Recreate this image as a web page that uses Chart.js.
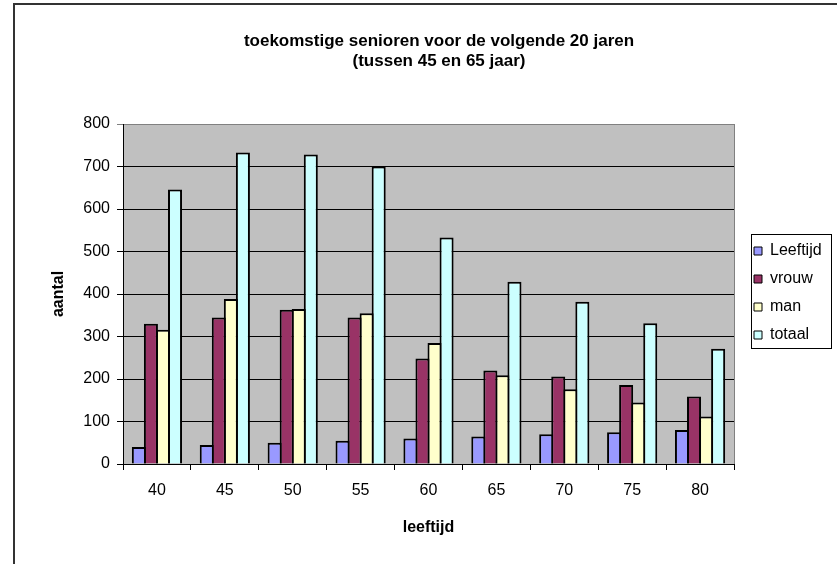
<!DOCTYPE html>
<html>
<head>
<meta charset="utf-8">
<script src="https://cdn.jsdelivr.net/npm/chart.js@4.4.1/dist/chart.umd.min.js"></script>
<style>
  html, body { margin: 0; padding: 0; background: #ffffff; }
  canvas { display: block; }
</style>
</head>
<body>
<canvas id="chart" width="837" height="564"></canvas>
<script>
// ---- data ----
const categories = ['40', '45', '50', '55', '60', '65', '70', '75', '80'];
const seriesNames = ['Leeftijd', 'vrouw', 'man', 'totaal'];
const leeftijd = [40, 45, 50, 55, 60, 65, 70, 75, 80];
const vrouw    = [330, 345, 363, 345, 248, 220, 206, 186, 159];
const man      = [316, 388, 365, 355, 285, 209, 176, 145, 112];
const totaal   = [646, 733, 728, 700, 533, 429, 382, 331, 271];
const yMin = 0, yMax = 800, yStep = 100;
const titleLines = ['toekomstige senioren voor de volgende 20 jaren', '(tussen 45 en 65 jaar)'];
const xTitle = 'leeftijd';
const yTitle = 'aantal';

const FONT = '"Liberation Sans", Arial, sans-serif';
const seriesColors = ['#9999FF', '#993366', '#FFFFCC', '#CCFFFF'];
const seriesValues = [leeftijd, vrouw, man, totaal];

const decor = {
  id: 'decor',
  afterLayout(chart) {
    const t = chart.titleBlock;
    if (t) { t.left = 40; t.right = 838; }
    const lg = chart.legend;
    if (lg) {
      const w = lg.width, h = lg.height;
      lg.left = 742; lg.right = lg.left + w;
      lg.top = 231; lg.bottom = lg.top + h;
    }
  },
  beforeDraw(chart) {
    const ctx = chart.ctx, a = chart.chartArea;
    ctx.save();
    ctx.fillStyle = '#ffffff';
    ctx.fillRect(0, 0, chart.width, chart.height);
    ctx.fillStyle = '#C0C0C0';
    ctx.fillRect(a.left, a.top, a.right - a.left, a.bottom - a.top);
    // legend frame
    ctx.fillStyle = '#ffffff';
    ctx.fillRect(751, 234, 80, 114);
    ctx.strokeStyle = '#000000';
    ctx.lineWidth = 1;
    ctx.strokeRect(751.5, 234.5, 80, 114);
    // outer chart frame (only left/top visible)
    ctx.strokeStyle = '#333333';
    ctx.lineWidth = 2;
    ctx.beginPath();
    ctx.moveTo(14, chart.height);
    ctx.lineTo(14, 4);
    ctx.lineTo(chart.width, 4);
    ctx.stroke();
    ctx.restore();
  },
  afterDraw(chart) {
    const ctx = chart.ctx, a = chart.chartArea;
    ctx.save();
    ctx.strokeStyle = '#808080';
    ctx.lineWidth = 1;
    ctx.beginPath();
    ctx.moveTo(Math.round(a.right) + 0.5, a.top);
    ctx.lineTo(Math.round(a.right) + 0.5, a.bottom);
    ctx.stroke();
    ctx.restore();
  }
};

new Chart(document.getElementById('chart'), {
  type: 'bar',
  data: {
    labels: categories,
    datasets: seriesNames.map((name, i) => ({
      label: name,
      data: seriesValues[i],
      backgroundColor: seriesColors[i],
      borderColor: '#000000',
      borderWidth: 2,
      categoryPercentage: 0.71,
      barPercentage: 1.165
    }))
  },
  options: {
    responsive: false,
    animation: false,
    devicePixelRatio: 1,
    layout: { padding: { left: 40, right: 20, top: 0, bottom: 0 } },
    plugins: {
      title: {
        display: true,
        text: titleLines,
        color: '#000000',
        font: { family: FONT, size: 17, weight: 'bold', lineHeight: 1.2 },
        padding: { top: 31, bottom: 52.2 }
      },
      legend: {
        display: true,
        position: 'right',
        align: 'start',
        maxWidth: 83,
        labels: {
          color: '#000000',
          font: { family: FONT, size: 16 },
          boxWidth: 8,
          boxHeight: 8,
          padding: 12,
          generateLabels(chart) {
            return Chart.defaults.plugins.legend.labels.generateLabels(chart).map(l => Object.assign(l, { lineWidth: 1 }));
          }
        }
      },
      tooltip: { enabled: false }
    },
    scales: {
      x: {
        offset: true,
        grid: { offset: true, drawOnChartArea: false, drawTicks: true, tickLength: 6, color: '#000000', lineWidth: 1 },
        border: { display: true, color: '#000000', width: 1 },
        ticks: { color: '#000000', font: { family: FONT, size: 16 }, padding: 11, maxRotation: 0 },
        title: { display: true, text: xTitle, color: '#000000', font: { family: FONT, size: 16, weight: 'bold', lineHeight: 1.2 }, padding: { top: 0, bottom: 27 } },
        afterFit(scale) { scale.height = 100; }
      },
      y: {
        min: yMin,
        max: yMax,
        grid: {
          color: (c) => (c.tick && c.tick.value === yMax ? '#808080' : '#000000'),
          lineWidth: 1,
          tickLength: 6,
          drawTicks: true
        },
        border: { display: true, color: '#000000', width: 1 },
        ticks: { stepSize: yStep, color: '#000000', font: { family: FONT, size: 16 }, padding: 7 },
        title: { display: true, text: yTitle, color: '#000000', font: { family: FONT, size: 16, weight: 'bold', lineHeight: 1.2 }, padding: { top: 9, bottom: 0 } },
        afterFit(scale) { scale.width = 83; }
      }
    }
  },
  plugins: [decor]
});
</script>
</body>
</html>
